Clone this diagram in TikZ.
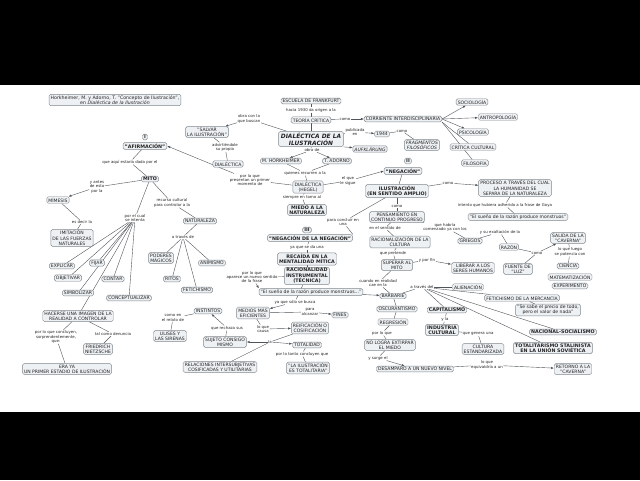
\documentclass[tikz,border=0pt]{standalone}
\usepackage{fontspec}
\setmainfont{DejaVu Sans}
\usetikzlibrary{arrows.meta,backgrounds}
\definecolor{boxfill}{HTML}{EEF1F4}
\definecolor{boxline}{HTML}{7F868D}
\definecolor{lncol}{HTML}{50555A}
\definecolor{txt}{HTML}{222222}
\begin{document}
\begin{tikzpicture}[x=1pt,y=-1pt,
 bx/.style={draw=boxline, fill=boxfill, rounded corners=1.6pt, line width=0.45pt, inner xsep=1.6pt, inner ysep=1.1pt, align=center, text=txt, font=\fontsize{4.55}{5.2}\selectfont},
 bxb/.style={bx, font=\fontsize{4.8}{5.5}\selectfont\bfseries},
 bxi/.style={bx, font=\fontsize{4.55}{5.2}\selectfont\itshape},
 lb/.style={inner sep=0.5pt, align=center, text=txt, font=\fontsize{3.9}{4.3}\selectfont},
 ln/.style={draw=lncol, line width=0.4pt},
 ar/.style={ln, -{Latex[length=3pt,width=2.2pt]}}]
\useasboundingbox (0,0) rectangle (640,480);
% ---------- nodes ----------
\node[bx, font=\fontsize{4.7}{5.4}\selectfont] (hork) at (115,100) {Horkheimer, M. y Adorno, T. "Concepto de Ilustración",\\ en \textit{Dialéctica de la Ilustración}};
\node[bxb] (I1) at (145,137) {I};
\node[bxb] (afirm) at (145,146) {"AFIRMACIÓN"};
\node[lb] (lab1) at (130,162) {que aquí estaría dada por el};
\node[bxb] (mito) at (150,179) {MITO};
\node[lb] (lab2) at (97,187) {y antes\\de esto\\por la};
\node[bx] (mimesis) at (58,200) {MÍMESIS};
\node[lb] (lab3) at (82,222) {es decir la};
\node[bx] (imit) at (72,238) {IMITACIÓN\\DE LAS FUERZAS\\NATURALES};
\node[lb] (lab4) at (135,218) {por el cual\\se intenta};
\node[bx] (explicar) at (62,266) {EXPLICAR};
\node[bx] (fijar) at (97,263) {FIJAR};
\node[bx] (objetivar) at (68,278) {OBJETIVAR};
\node[bx] (contar) at (113,279) {CONTAR};
\node[bx] (simbolizar) at (78,293) {SIMBOLIZAR};
\node[bx] (concept) at (129,298) {CONCEPTUALIZAR};
\node[bx] (hacerse) at (78,316) {HACERSE UNA IMAGEN DE LA\\REALIDAD A CONTROLAR};
\node[lb] (lab5) at (56,337) {por lo que concluyen,\\sorprendentemente,\\que:};
\node[lb] (lab6) at (113,334) {tal como denuncia};
\node[bx] (nietz) at (98,349) {FRIEDRICH\\NIETZSCHE};
\node[bx] (erya) at (67,369) {ERA YA\\UN PRIMER ESTADIO DE ILUSTRACIÓN};
\node[lb] (lab7) at (172,203) {recurso cultural\\para controlar a la};
\node[bx] (natur) at (200,221) {NATURALEZA};
\node[lb] (lab8) at (183,237) {a través de};
\node[bx] (poderes) at (161,258) {PODERES\\MÁGICOS};
\node[bx] (ritos) at (172,279) {RITOS};
\node[bx] (fetich) at (197,290) {FETICHISMO};
\node[bx] (animismo) at (212,263) {ANIMISMO};
\node[bx] (salvar) at (207,132) {"SALVAR\\LA ILUSTRACIÓN"};
\node[lb] (lab9) at (249,119) {obra con la\\que buscan};
\node[lb] (lab10) at (225,147) {advirtiéndole\\su propia};
\node[bx] (dial) at (228,164) {DIALÉCTICA};
\node[lb] (lab11) at (250,180) {por la que\\presentan un primer\\momento de};
\node[bx] (frank) at (311,101) {ESCUELA DE FRANKFURT};
\node[lb] (lab12) at (311,110) {hacia 1930 da origen a la};
\node[bx] (teoria) at (311,120) {TEORÍA CRÍTICA};
\node[bx, font=\fontsize{5.9}{6.8}\selectfont\bfseries\itshape, inner xsep=2.2pt, inner ysep=1.5pt] (main) at (311,139) {DIALÉCTICA DE LA\\ILUSTRACIÓN};
\node[lb] (lab13) at (312,150) {obra de};
\node[bx] (hork2) at (281,161) {M. HORKHEIMER};
\node[bx] (adorno) at (337,161) {T. ADORNO};
\node[lb] (lab14) at (305,173) {quienes recurren a la};
\node[bx] (hegel) at (308,187) {DIALÉCTICA\\(HEGEL)};
\node[lb] (lab15) at (302,197) {siempre en torno al};
\node[bxb] (miedo) at (307,210) {MIEDO A LA\\NATURALEZA};
\node[bxb] (III) at (307,230) {III};
\node[bxb] (negneg) at (310,238) {"NEGACIÓN DE LA NEGACIÓN"};
\node[lb] (lab16) at (307,247) {ya que se da una};
\node[bxb] (recaida) at (307,259) {RECAÍDA EN LA\\MENTALIDAD MÍTICA};
\node[bxb] (racio) at (307,276) {RACIONALIDAD\\INSTRUMENTAL\\(TÉCNICA)};
\node[lb] (lab17) at (252,277) {por lo que\\aparece un nuevo sentido\\de la frase};
\node[bx] (sueno1) at (311,292) {"El sueño de la razón produce monstruos..."};
\node[lb] (lab18) at (345,119) {como};
\node[bx] (corr) at (403,119) {CORRIENTE INTERDISCIPLINARIA};
\node[lb] (lab19) at (355,132) {publicada\\en};
\node[bx] (y1944) at (382,134) {1944};
\node[lb] (lab20) at (402,131) {como};
\node[bxi] (frag) at (422,145) {FRAGMENTOS\\FILOSÓFICOS};
\node[bxi] (aufk) at (370,149) {AUFKLÄRUNG};
\node[bxb] (II) at (408,161) {II};
\node[bxb] (neg) at (403,171) {"NEGACIÓN"};
\node[lb] (lab21) at (348,181) {el que\\le sigue};
\node[bxb] (ilus) at (397,191) {ILUSTRACIÓN\\(EN SENTIDO AMPLIO)};
\node[lb] (lab22) at (448,183) {como};
\node[bx] (socio) at (472,102) {SOCIOLOGÍA};
\node[bx] (antro) at (498,117) {ANTROPOLOGÍA};
\node[bx] (psico) at (473,132) {PSICOLOGÍA};
\node[bx] (critcult) at (473,147) {CRÍTICA CULTURAL};
\node[bx] (filo) at (475,163) {FILOSOFÍA};
\node[bx] (proceso) at (515,188) {PROCESO A TRAVÉS DEL CUAL\\LA HUMANIDAD SE\\SEPARA DE LA NATURALEZA};
\node[lb] (lab23) at (505,205) {intento que hubiera adherido a la frase de Goya};
\node[bx] (sueno2) at (518,217) {"El sueño de la razón produce monstruos"};
\node[lb] (lab24) at (500,232) {y su exaltación de la};
\node[bx] (griegos) at (470,241) {GRIEGOS};
\node[lb] (lab25) at (445,227) {que habría\\comenzado ya con los};
\node[bx] (razon) at (509,247) {RAZÓN};
\node[lb] (lab26) at (537,253) {como};
\node[bx] (fuente) at (518,269) {FUENTE DE\\"LUZ"};
\node[bx] (salida) at (568,238) {SALIDA DE LA\\"CAVERNA"};
\node[lb] (lab27) at (570,252) {lo que luego\\se potencia con};
\node[bx] (ciencia) at (568,266) {CIENCIA};
\node[bx] (matem) at (570,277) {MATEMATIZACIÓN};
\node[bx] (exper) at (570,286) {EXPERIMENTO};
\node[bx] (liberar) at (473,268) {LIBERAR A LOS\\SERES HUMANOS};
\node[bx] (alien) at (468,287) {ALIENACIÓN};
\node[bx] (fetmerc) at (522,298) {FETICHISMO DE LA MERCANCÍA};
\node[lb] (lab28) at (397,206) {como};
\node[bx] (pensam) at (397,217) {PENSAMIENTO EN\\CONTINUO PROGRESO};
\node[lb] (lab29) at (343,222) {para concluir en\\una};
\node[lb] (lab30) at (385,228) {en el sentido de};
\node[bx] (racult) at (400,242) {RACIONALIZACIÓN DE LA\\CULTURA};
\node[lb] (lab31) at (393,253) {que pretende};
\node[bx] (superar) at (397,265) {SUPERAR AL\\MITO};
\node[lb] (lab32) at (427,260) {y por fin};
\node[lb] (lab33) at (378,283) {cuando en realidad\\cae en la};
\node[bx] (barbarie) at (393,296) {BARBARIE};
\node[lb] (lab34) at (422,287) {a través del};
\node[bx] (oscur) at (397,309) {OSCURANTISMO};
\node[bx] (regres) at (393,322) {REGRESIÓN};
\node[lb] (lab35) at (382,333) {por lo que};
\node[bx] (nologra) at (390,345) {NO LOGRA EXTIRPAR\\EL MIEDO};
\node[lb] (lab36) at (378,358) {y surge el};
\node[bx] (desamp) at (415,369) {DESAMPARO A UN NUEVO NIVEL};
\node[bxb] (capit) at (447,310) {CAPITALISMO};
\node[lb] (lab37) at (445,319) {y la};
\node[bxb] (indus) at (442,330) {INDUSTRIA\\CULTURAL};
\node[bx] (fines) at (340,315) {FINES};
\node[lb] (lab38) at (310,312) {para\\alcanzar};
\node[bx] (sesabe) at (548,310) {"Se sabe el precio de todo,\\pero el valor de nada"};
\node[bxb] (nacsoc) at (563,332) {NACIONAL-SOCIALISMO};
\node[bxb] (total) at (553,348) {TOTALITARISMO STALINISTA\\EN LA UNIÓN SOVIÉTICA};
\node[lb] (lab39) at (478,334) {que genera una};
\node[bx] (cultest) at (483,349) {CULTURA\\ESTANDARIZADA};
\node[lb] (lab40) at (487,365) {lo que\\equivaldría a un};
\node[bx] (retorno) at (573,369) {RETORNO A LA\\"CAVERNA"};
\node[bx] (instintos) at (208,311) {INSTINTOS};
\node[lb] (lab41) at (173,318) {como en\\el relato de};
\node[bx] (ulises) at (170,336) {ULISES Y\\LAS SIRENAS};
\node[bx] (medios) at (253,313) {MEDIOS MÁS\\EFICIENTES};
\node[lb] (lab42) at (295,302) {ya que sólo se busca};
\node[lb] (lab43) at (227,328) {que rechaza sus};
\node[lb] (lab44) at (263,329) {lo que\\causa};
\node[bx] (reif) at (310,328) {REIFICACIÓN O\\COSIFICACIÓN};
\node[bx] (sujeto) at (225,342) {SUJETO CONSIGO\\MISMO};
\node[lb] (lab45) at (270,342) {la};
\node[bx] (totalidad) at (307,345) {TOTALIDAD};
\node[lb] (lab46) at (302,354) {por lo tanto concluyen que};
\node[bx] (ilustot) at (308,368) {"LA ILUSTRACIÓN\\ES TOTALITARIA"};
\node[bx] (relac) at (220,367) {RELACIONES INTERSUBJETIVAS\\COSIFICADAS Y UTILITARIAS};
% ---------- background and connectors ----------
\begin{pgfonlayer}{background}
\fill[black] (0,0) rectangle (640,85);
\fill[white] (0,85) rectangle (640,412);
\fill[black] (0,412) rectangle (640,480);
\draw[ln] (frank) -- (lab12); \draw[ln] (lab12) -- (teoria);
\draw[ln] (teoria) -- (main);
\draw[ln] (teoria) -- (lab18); \draw[ar] (lab18) -- (corr);
\draw[ar] (corr.east) -- (socio);
\draw[ar] (corr.east) -- (antro);
\draw[ar] (corr.east) -- (psico);
\draw[ln] (corr.south east) -- (critcult);
\draw[ln] (corr.south east) -- (filo);
\draw[ln] (main) -- (lab19); \draw[ar] (lab19) -- (y1944);
\draw[ln] (y1944) -- (lab20); \draw[ln] (lab20) -- (frag);
\draw[ar] (main.south east) -- (aufk);
\draw[ln] (main) -- (lab13); \draw[ar] (lab13) -- (hork2); \draw[ar] (lab13) -- (adorno);
\draw[ln] (hork2) -- (lab14); \draw[ln] (adorno) -- (lab14); \draw[ln] (lab14) -- (hegel);
\draw[ln] (hegel) -- (lab11); \draw[ar] (lab11) -- (afirm.east);
\draw[ln] (hegel) -- (lab21); \draw[ar] (lab21) -- (neg.west);
\draw[ln] (neg) -- (ilus);
\draw[ln] (ilus) -- (lab22); \draw[ar] (lab22) -- (proceso);
\draw[ln] (proceso) -- (lab23); \draw[ln] (lab23) -- (sueno2);
\draw[ln] (ilus) -- (lab28); \draw[ln] (lab28) -- (pensam);
\draw[ln] (ilus) -- (lab29); \draw[ln] (lab29) -- (negneg.north east);
\draw[ln] (hegel) -- (lab15); \draw[ln] (lab15) -- (miedo);
\draw[ln] (negneg) -- (lab16); \draw[ln] (lab16) -- (recaida);
\draw[ln] (recaida) -- (racio);
\draw[ln] (main) -- (lab9); \draw[ar] (lab9) -- (salvar);
\draw[ln] (salvar) -- (lab10); \draw[ln] (lab10) -- (dial);
\draw[ln] (afirm) -- (lab1); \draw[ln] (lab1) -- (mito);
\draw[ln] (mito) -- (lab2); \draw[ar] (lab2) -- (mimesis);
\draw[ln] (mimesis) -- (lab3); \draw[ln] (lab3) -- (imit);
\draw[ln] (mito) -- (lab4);
\foreach \t in {explicar,fijar,objetivar,contar,simbolizar,concept,hacerse} {\draw[ln] (lab4) -- (\t);}
\draw[ln] (mito) -- (lab7); \draw[ln] (lab7) -- (natur);
\draw[ln] (natur) -- (lab8);
\foreach \t in {poderes,ritos,fetich,animismo} {\draw[ln] (lab8) -- (\t);}
\draw[ln] (hacerse) -- (lab5); \draw[ln] (lab5) -- (erya);
\draw[ln] (hacerse) -- (lab6); \draw[ln] (lab6) -- (nietz);
\draw[ln] (racio) -- (lab17); \draw[ar] (lab17) -- (sueno1.north west);
\draw[ar] (sueno1) -- (barbarie);
\draw[ln] (racio) -- (lab42); \draw[ar] (lab42) -- (medios);
\draw[ln] (pensam) -- (lab30); \draw[ln] (lab30) -- (racult);
\draw[ln] (racult) -- (lab31); \draw[ln] (lab31) -- (superar);
\draw[ln] (pensam) -- (lab25); \draw[ln] (lab25) -- (griegos);
\draw[ln] (griegos) -- (lab24); \draw[ln] (lab24) -- (razon);
\draw[ln] (razon) -- (lab26); \draw[ar] (lab26) -- (salida); \draw[ln] (lab26) -- (fuente);
\draw[ln] (salida) -- (lab27); \draw[ln] (lab27) -- (ciencia);
\draw[ln] (superar) -- (lab32); \draw[ar] (lab32) -- (liberar);
\draw[ln] (superar) -- (lab33); \draw[ln] (lab33) -- (barbarie);
\draw[ln] (barbarie) -- (lab34);
\foreach \t in {alien,fetmerc,capit,nacsoc,total} {\draw[ln] (lab34) -- (\t);}
\draw[ln] (barbarie) -- (oscur); \draw[ln] (oscur) -- (regres);
\draw[ln] (regres) -- (lab35); \draw[ln] (lab35) -- (nologra);
\draw[ln] (nologra) -- (lab36); \draw[ar] (lab36) -- (desamp);
\draw[ln] (desamp) -- (lab40); \draw[ar] (lab40) -- (retorno);
\draw[ln] (capit) -- (lab37); \draw[ln] (lab37) -- (indus);
\draw[ln] (indus) -- (lab39); \draw[ln] (lab39) -- (cultest);
\draw[ln] (fetmerc) -- (sesabe);
\draw[ln] (medios) -- (lab38); \draw[ar] (lab38) -- (fines);
\draw[ln] (medios) -- (lab44); \draw[ar] (lab44) -- (reif);
\draw[ln] (reif) -- (lab45); \draw[ar] (lab45) -- (sujeto); \draw[ar] (lab45) -- (totalidad); \draw[ln] (lab45) -- (relac);
\draw[ln] (sujeto) -- (lab43); \draw[ar] (lab43) -- (instintos);
\draw[ln] (instintos) -- (lab41); \draw[ln] (lab41) -- (ulises);
\draw[ln] (totalidad) -- (lab46); \draw[ln] (lab46) -- (ilustot);
\end{pgfonlayer}
\end{tikzpicture}
\end{document}
